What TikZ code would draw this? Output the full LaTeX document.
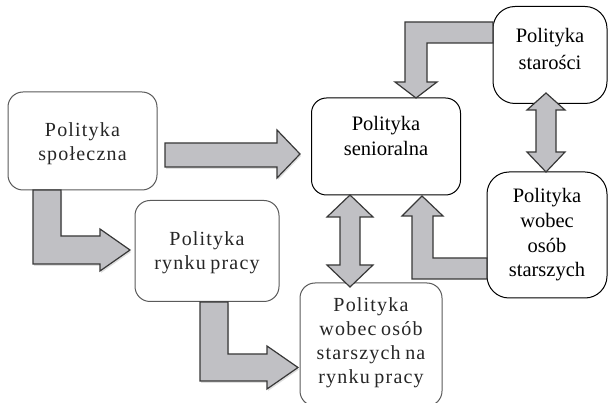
\documentclass[tikz,border=0pt]{standalone}
\usepackage{fontspec}
\setmainfont{Liberation Serif}
\newfontfamily\serifdark{Liberation Serif}
\newfontfamily\spacedfont[LetterSpace=6,WordSpace=0.75]{Liberation Serif}
\usetikzlibrary{shadows}
\definecolor{arrowfill}{HTML}{C0C0C4}
\definecolor{arrowline}{HTML}{383838}
\definecolor{softline}{HTML}{5A5A5A}
\definecolor{softtext}{HTML}{262626}
\tikzset{
  boxdark/.style={draw=black, line width=1pt, rounded corners=#1, fill=white},
  boxdark/.default=15pt,
  boxsoft/.style={draw=softline, line width=1pt, rounded corners=15pt, fill=white},
  txtdark/.style={align=center, font=\serifdark\fontsize{20.5}{25}\selectfont, text=black},
  txtsoft/.style={align=center, font=\spacedfont\fontsize{20}{24}\selectfont, text=softtext},
  blockarrow/.style={draw=arrowline, line width=1.2pt, fill=arrowfill, line join=miter},
  shadowarrow/.style={blockarrow, drop shadow={opacity=0.25, shadow xshift=1pt, shadow yshift=-2pt}},
}
\begin{document}
\begin{tikzpicture}[x=1pt, y=-1pt]
\useasboundingbox (0,0) rectangle (608,403);
% boxes
\node[boxsoft, minimum width=149pt, minimum height=98pt,
  label={[txtsoft, yshift=-2.5pt]center:Polityka\\społeczna}] (spol) at (82.5,141) {};
\node[boxsoft, minimum width=144pt, minimum height=101pt,
  label={[txtsoft, yshift=-1.5pt]center:Polityka\\rynku pracy}] (rynek) at (207,251) {};
\node[boxdark, minimum width=149pt, minimum height=97pt,
  label={[txtdark, yshift=11pt]center:Polityka\\senioralna}] (sen) at (386,146.5) {};
\node[boxdark=22pt, minimum width=114pt, minimum height=97pt,
  label={[txtdark, font=\serifdark\fontsize{20.5}{27.5}\selectfont, yshift=6pt]center:Polityka\\starości}] (star) at (550,55) {};
\node[boxdark=22pt, minimum width=120pt, minimum height=126pt,
  label={[txtdark, font=\serifdark\fontsize{20.5}{24.7}\selectfont]center:Polityka\\wobec\\osób\\starszych}] (wob) at (547,235) {};
\node[boxsoft, minimum width=142pt, minimum height=123pt,
  label={[txtsoft, yshift=1.5pt]center:Polityka\\wobec osób\\starszych na\\rynku pracy}] (nar) at (371,344.5) {};
% arrows
\draw[shadowarrow] (165,143) -- (277,143) -- (277,130) -- (300,154) -- (277,178) -- (277,167) -- (165,167) -- cycle;
\draw[shadowarrow] (33,190) -- (61,190) -- (61,236) -- (100,236) -- (100,229) -- (130,250) -- (100,271) -- (100,264) -- (33,264) -- cycle;
\draw[shadowarrow] (200,302) -- (228,302) -- (228,354) -- (267,354) -- (267,346) -- (298,367.5) -- (267,389) -- (267,381) -- (200,381) -- cycle;
\draw[blockarrow] (493,22) -- (405,22) -- (405,82) -- (395,82) -- (416,98) -- (437,82) -- (427,82) -- (427,43) -- (493,43) -- cycle;
\draw[blockarrow] (546,93) -- (565,110) -- (556,110) -- (556,152) -- (565,152) -- (546,172) -- (527,152) -- (536,152) -- (536,110) -- (527,110) -- cycle;
\draw[blockarrow] (350,195) -- (373,217) -- (360,217) -- (360,265) -- (373,265) -- (350,287) -- (327,265) -- (340,265) -- (340,217) -- (327,217) -- cycle;
\draw[blockarrow] (487,258) -- (433,258) -- (433,216) -- (443,216) -- (422,196) -- (402,216) -- (412,216) -- (412,279) -- (487,279) -- cycle;
\end{tikzpicture}
\end{document}
